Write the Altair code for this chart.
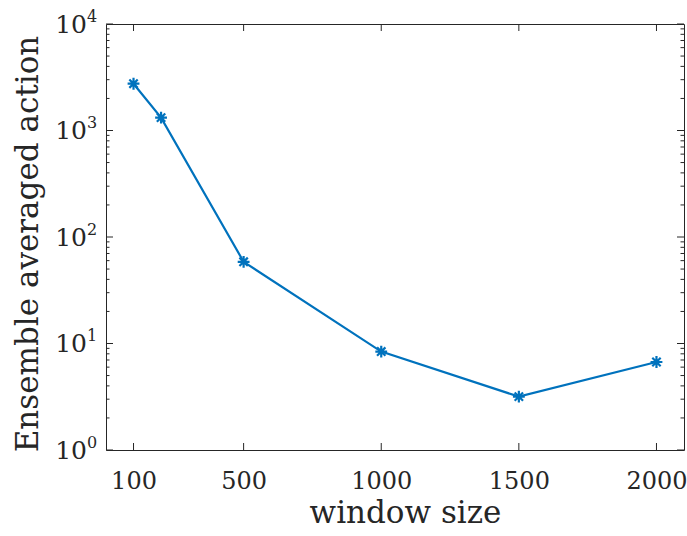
import altair as alt
import pandas as pd

# data
window_size = [100, 200, 500, 1000, 1500, 2000]
ensemble_action = [2750, 1320, 58.5, 8.4, 3.17, 6.7]

x_tick_values = [100, 500, 1000, 1500, 2000]
y_major_values = [1, 10, 100, 1000, 10000]
y_exponents = ["0", "1", "2", "3", "4"]
y_minor_values = [2, 3, 4, 5, 6, 7, 8, 9,
                  20, 30, 40, 50, 60, 70, 80, 90,
                  200, 300, 400, 500, 600, 700, 800, 900,
                  2000, 3000, 4000, 5000, 6000, 7000, 8000, 9000]

W, H = 578, 426
FONT = "DejaVu Serif"
AX = "#262626"
BLUE = "#0072BD"
MAJOR, MINOR = 7, 3.5

xs = alt.Scale(domain=[0, 2100], nice=False, zero=False)
ys = alt.Scale(type="log", domain=[1, 10000], nice=False)

xaxis = alt.Axis(values=x_tick_values, format="d", ticks=False, tickSize=0, domain=False, grid=False,
                 labelFont=FONT, labelFontSize=24, labelColor=AX,
                 labelBaseline="alphabetic", labelPadding=38, labelFlush=False,
                 title="window size", titleFont=FONT, titleFontSize=31,
                 titleFontWeight="normal", titleColor=AX,
                 titleX=299, titleY=72, titleBaseline="alphabetic", titleAlign="center")
yaxis = alt.Axis(labels=False, ticks=False, domain=False, grid=False,
                 title="Ensemble averaged action", titleFont=FONT, titleFontSize=31,
                 titleFontWeight="normal", titleColor=AX, titleAngle=270,
                 titleX=-69, titleY=219.5, titleBaseline="alphabetic", titleAlign="center")

df = pd.DataFrame({"w": window_size, "a": ensemble_action})
ymaj = pd.DataFrame({"a": y_major_values, "e": y_exponents})
ymin = pd.DataFrame({"a": y_minor_values})
xt = pd.DataFrame({"w": x_tick_values})

X = alt.X("w:Q", scale=xs, axis=xaxis)
Y = alt.Y("a:Q", scale=ys, axis=yaxis)

line = alt.Chart(df).mark_line(color=BLUE, strokeWidth=2.2).encode(x=X, y=Y)

star = "M0,-1L0,1M-1,0L1,0M-0.7071,-0.7071L0.7071,0.7071M-0.7071,0.7071L0.7071,-0.7071"
points = alt.Chart(df).mark_point(shape=star, filled=False, size=140, strokeWidth=2.2,
                                  color=BLUE, opacity=1).encode(x=X, y=Y)

def yticks(data, x0, x1):
    return alt.Chart(data).mark_rule(color=AX, strokeWidth=1).encode(
        y=Y, x=alt.value(x0), x2=alt.value(x1))

def xticks(data, y0, y1):
    return alt.Chart(data).mark_rule(color=AX, strokeWidth=1).encode(
        x=X, y=alt.value(y0), y2=alt.value(y1))

ticks = [
    yticks(ymaj, 0, MAJOR), yticks(ymaj, W, W - MAJOR),
    yticks(ymin, 0, MINOR), yticks(ymin, W, W - MINOR),
    xticks(xt, H, H - MAJOR), xticks(xt, 0, MAJOR),
]

base_lbl = alt.Chart(ymaj).mark_text(font=FONT, fontSize=25, color=AX, align="right",
                                     baseline="alphabetic", dy=8.5).encode(
    y=Y, x=alt.value(-19), text=alt.value("10"))
exp_lbl = alt.Chart(ymaj).mark_text(font=FONT, fontSize=16, color=AX, align="left",
                                    baseline="alphabetic", dy=-2.5).encode(
    y=Y, x=alt.value(-19), text="e:N")

chart = alt.layer(line, points, *ticks, base_lbl, exp_lbl).properties(
    width=W, height=H,
    autosize=alt.AutoSizeParams(type="none"),
    padding={"left": 106, "top": 24, "right": 3, "bottom": 86},
    background="white",
).configure_view(stroke=AX, strokeWidth=1)

chart.save("out.html", embed_options={"renderer": "svg", "actions": False})
